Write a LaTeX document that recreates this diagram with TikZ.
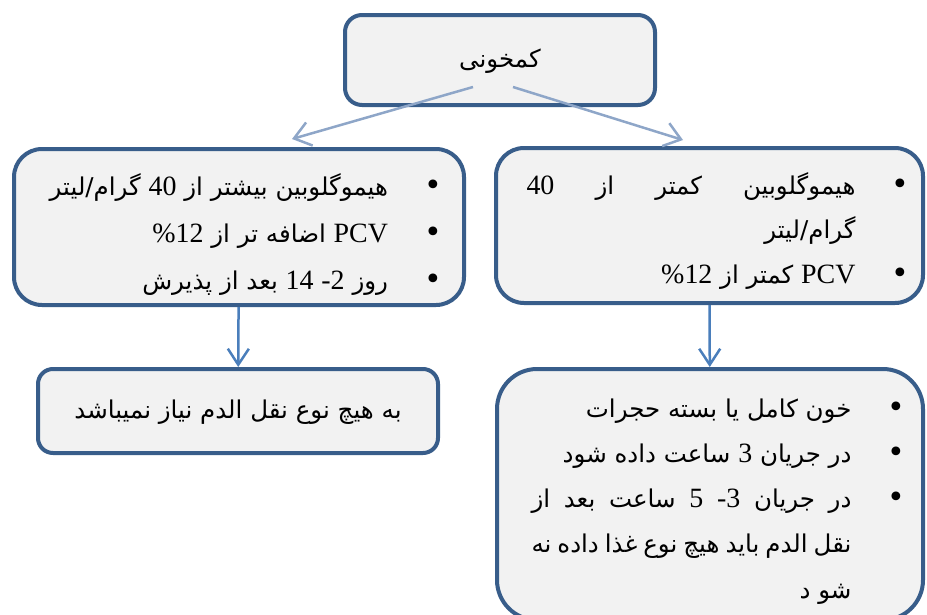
\documentclass[tikz,border=0pt]{standalone}
\usepackage{fontspec}
\usepackage{tikz}
\usetikzlibrary{arrows.meta}
\TeXXeTstate=1
\newfontfamily\arabicfont[Script=Arabic]{DejaVu Sans}
\newfontfamily\latfont[Scale=1.14]{Liberation Serif}
\newfontfamily\bulfont{DejaVu Sans}

\definecolor{boxline}{HTML}{385D8A}
\definecolor{boxfill}{HTML}{F2F2F2}
\definecolor{liteline}{HTML}{8EA6C8}
\definecolor{darkline}{HTML}{4A7EBB}

\newcommand\lat[1]{\beginL{\latfont #1}\endL}
\newcommand\bul{\hbox to 47pt{\hss{\bulfont\fontsize{30}{30}\selectfont\char"2022}\kern-7pt}}
\newcommand\lstrut{\vrule height 30pt depth 16pt width 0pt}
\newcommand\bitem[2]{\hbox to #1{\lstrut\hfill #2\bul}}
\newcommand\bjust[2]{\hbox to #1{\lstrut #2\bul}}
\newcommand\bcont[2]{\hbox to #1{\lstrut\hfill #2\kern47pt}}
\newcommand\bcontj[2]{\hbox to #1{\lstrut #2\kern47pt}}

\begin{document}
\begin{tikzpicture}[x=1pt,y=-1pt]
\tikzstyle{box}=[draw=boxline,fill=boxfill,line width=4pt,inner sep=0pt,font=\arabicfont\fontsize{24.5}{28}\selectfont]
\tikzstyle{lite}=[draw=liteline,line width=2.5pt,-{Straight Barb[length=16pt,width=24pt]}]
\tikzstyle{dark}=[draw=darkline,line width=2.5pt,-{Straight Barb[length=16pt,width=21pt]}]
\useasboundingbox (0,0) rectangle (927,614);
\clip (0,0) rectangle (927,614);
\node[box,rounded corners=17pt,minimum width=310pt,minimum height=90pt] (anemia) at (500,60) {\lstrut\beginR کمخونی\endR};
\node[box,rounded corners=28pt,minimum width=450pt,minimum height=154pt] (high) at (239,227) {\vbox{\baselineskip=47pt\lineskiplimit=-100pt\kern16pt
  \bitem{392pt}{\beginR هیموگلوبین بیشتر از \lat{40} گرام/لیتر\endR}
  \bitem{392pt}{\beginR\lat{PCV} اضافه تر از \lat{\%12}\endR}
  \bitem{392pt}{\beginR روز \lat{2}\lat{-} \lat{14} بعد از پذیرش\endR}}};
\node[box,rounded corners=28pt,minimum width=427pt,minimum height=155pt] (low) at (709.5,225.5) {\kern10pt\vbox{\baselineskip=44.5pt\lineskiplimit=-100pt\kern12pt
  \bjust{376pt}{\beginR هیموگلوبین\hfill کمتر\hfill از\hfill \lat{40}\endR}
  \bcont{376pt}{\beginR گرام/لیتر\endR}
  \bitem{376pt}{\beginR\lat{PCV} کمتر از \lat{\%12}\endR}}};
\node[box,rounded corners=15pt,minimum width=400pt,minimum height=84pt] (nobt) at (238,411) {\lstrut\beginR به هیچ نوع نقل الدم نیاز نمیباشد\endR};
\node[box,rounded corners=40pt,minimum width=426pt,minimum height=251pt] (bt) at (710,494.5) {\kern10pt\vbox{\baselineskip=45.25pt\lineskiplimit=-100pt\kern12pt
  \bitem{367pt}{\beginR خون کامل یا بسته حجرات\endR}
  \bitem{367pt}{\beginR در جریان \lat{3} ساعت داده شود\endR}
  \bjust{367pt}{\beginR در\hfill جریان\hfill \lat{3}\lat{-}\hfill \lat{5}\hfill ساعت\hfill بعد\hfill از\endR}
  \bcontj{367pt}{\beginR نقل\hfill الدم\hfill باید\hfill هیچ\hfill نوع\hfill غذا\hfill داده\hfill نه\endR}
  \bcont{367pt}{\beginR شو د\endR}}};
\coordinate (a1) at (473,87);
\coordinate (a2) at (513,87);
\coordinate (h1) at (292,139);
\coordinate (l1) at (683,140);
\draw[lite] (a1) -- (h1);
\draw[lite] (a2) -- (l1);
\draw[dark] (high) -- (nobt);
\draw[dark] (low) -- (bt);
\end{tikzpicture}
\end{document}
